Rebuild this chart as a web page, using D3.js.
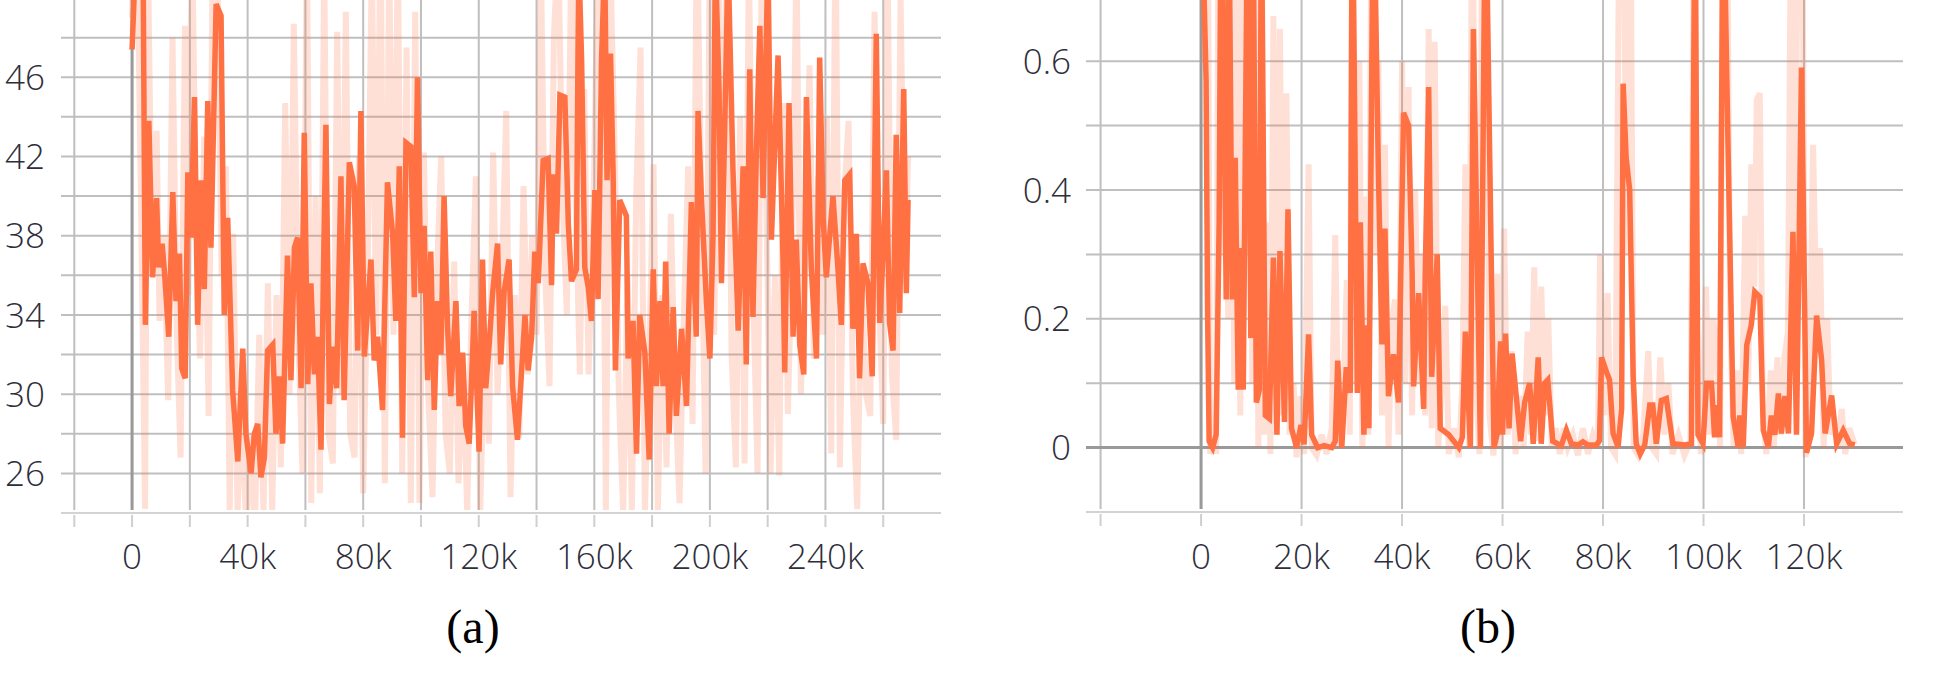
<!DOCTYPE html>
<html>
<head>
<meta charset="utf-8">
<script src="https://cdn.jsdelivr.net/npm/d3@7"></script>
<style>
  body { margin: 0; background: #fff; }
  .tickLabel { font-family: "Open Sans", sans-serif; font-weight: 300; font-size: 35px; fill: #2e2e3a; }
  .caption { font-family: "Liberation Serif", "Times New Roman", serif; font-size: 48px; fill: #000; }
</style>
</head>
<body>
<svg id="chart" width="1952" height="678"></svg>
<script>
// steps are in thousands

// (a) smoothed and raw series
var smoothA = [[0,47.4],[1.5,53],[3.8,52],[4.6,33.5],[5.8,43.8],[7.1,35.9],[8.5,39.9],[9.2,36.4],[10.4,37.6],[11.2,36.2],[12.7,32.9],[14.1,40.2],[15.2,34.7],[16.4,37.1],[17.2,31.3],[18.4,30.8],[19.3,41.2],[20.4,37.9],[21.6,45.0],[22.7,33.5],[23.9,40.8],[25.0,35.3],[26.2,44.8],[27.3,37.4],[29.1,49.7],[30.8,49.1],[31.9,34.0],[33.1,38.9],[34.8,30.2],[36.6,26.6],[38.3,32.3],[39.4,28.0],[41.2,26.0],[42.3,28.0],[43.5,28.5],[44.6,25.8],[45.8,26.8],[46.9,32.2],[48.7,32.5],[49.8,28.0],[51.0,30.9],[52.1,27.5],[53.8,37.0],[55.0,30.7],[56.2,37.4],[57.3,37.9],[58.5,30.3],[59.6,43.2],[60.8,30.5],[61.9,35.6],[63.1,31.0],[64.2,32.9],[65.4,27.2],[66.2,35.8],[67.1,43.6],[68.3,29.5],[69.4,32.4],[70.8,30.3],[72.3,41.0],[73.4,29.7],[75.2,41.7],[76.9,40.5],[78.1,32.2],[79.2,44.3],[80.4,31.9],[82.7,36.8],[83.8,31.7],[85.0,32.9],[86.7,29.2],[88.4,40.7],[90.2,38.1],[91.3,33.7],[92.5,41.5],[93.6,27.8],[94.8,42.7],[96.5,42.5],[97.7,34.9],[98.8,46.0],[100.0,35.1],[101.1,38.5],[102.3,30.7],[103.4,37.2],[104.6,29.2],[105.7,34.7],[106.9,32.0],[108.0,40.0],[109.2,33.4],[110.3,29.9],[112.1,34.7],[113.2,29.4],[114.4,32.1],[115.5,28.4],[116.7,27.5],[118.4,34.2],[120.1,27.1],[121.3,36.8],[122.4,30.3],[123.6,32.5],[124.8,35.1],[126.5,37.6],[127.6,31.5],[128.8,35.2],[130.5,36.8],[131.7,30.4],[133.4,27.7],[136.0,34.0],[137.1,31.2],[138.3,32.9],[139.4,37.2],[140.6,35.6],[142.3,41.8],[144.0,41.9],[145.2,35.5],[145.8,41.1],[146.9,38.1],[148.1,45.1],[149.8,45.0],[151.0,38.6],[152.1,35.7],[153.8,36.3],[154.6,52],[155.6,46.9],[156.7,36.4],[157.9,35.4],[159.0,33.7],[160.2,40.3],[161.3,34.8],[162.5,46.9],[163.6,52],[164.4,40.8],[165.6,47.2],[166.5,41.2],[167.3,31.2],[168.8,39.8],[171.1,39.0],[171.7,31.8],[173.4,33.7],[174.6,27.0],[175.7,34.0],[177.5,32.1],[179.0,26.7],[180.4,36.3],[181.5,30.4],[182.7,34.7],[183.8,30.4],[184.7,36.7],[185.9,28.0],[187.3,34.4],[188.4,28.9],[190.2,33.3],[191.9,29.4],[193.6,39.7],[195.3,32.9],[195.9,44.3],[197.1,39.8],[198.8,34.7],[200.0,31.8],[201.1,38.1],[201.9,52],[203.2,45.2],[204.0,35.6],[205.1,43.2],[206.3,52],[208.0,41.3],[209.8,33.2],[211.5,41.5],[212.6,31.5],[213.8,46.4],[214.9,33.9],[216.1,42.3],[217.3,48.6],[218.4,39.9],[220.1,52],[221.3,37.8],[223.6,47.1],[225.3,36.9],[225.9,31.1],[227.4,44.7],[228.8,32.9],[229.9,37.8],[231.1,32.5],[232.5,31.0],[233.4,45.0],[235.1,36.4],[236.9,31.8],[238.0,47.0],[239.2,38.9],[240.3,35.9],[242.6,40.0],[244.3,36.4],[245.5,33.5],[246.7,40.8],[248.4,41.1],[249.5,33.3],[250.7,38.1],[251.8,30.8],[253.0,36.6],[254.7,35.6],[256.2,30.9],[257.6,48.2],[258.8,33.6],[259.9,37.0],[261.1,41.3],[262.2,33.6],[263.4,32.2],[264.5,43.1],[265.7,34.1],[267.1,45.4],[268.0,35.1],[268.6,39.8]];

var rawA = [[0,49],[1.5,56],[3,40.5],[4.5,24.2],[5.5,52],[7,36],[8.5,43.3],[9.5,33.7],[11,38],[12.5,29.7],[14,48],[15.5,33],[16.8,26.8],[18.3,48.6],[19.5,35],[20.8,53],[22,40],[23.5,31.8],[25,43],[26.5,28.9],[28,54],[29.5,52],[31,36],[32.5,41.5],[33.8,24],[35,38.1],[36.5,24],[38,30],[39.5,23],[41,28],[42.5,23],[44,33],[45.5,24],[47,35.6],[48.5,24],[50,35],[51.5,26.3],[53,44.7],[54.5,30],[56,48.7],[57.5,33],[59,26],[60.5,53],[62,24.5],[63.5,40],[65,25],[66.5,52],[68,28],[69.5,26.5],[71,48.3],[72.5,30],[74,49.3],[75.5,28],[77,26.8],[78.5,42],[80,25],[81.5,36],[83,52],[84.5,33],[86,54],[87.5,25.5],[89,52],[90.5,33],[92,53],[93.5,26],[95,47.5],[96.5,24.5],[98,49.3],[99.5,24.5],[101,42.2],[102.5,30],[104,24.8],[105.5,36],[107,42],[108.5,28],[110,26],[111.5,36.7],[113,25.5],[114.5,32],[116,24],[117.5,34],[119,41],[120.5,24],[122,33],[123.5,27.5],[125,42.2],[126.5,30],[128,36],[129.5,44.3],[131,24.8],[132.5,35],[134,27.8],[135.5,40.5],[137,31],[138.5,38],[140,33],[141.5,52],[143,36],[144.5,30.4],[146,48],[147.5,53],[149,40],[150.5,34],[152,52],[153.5,40],[155,31],[156.5,45.4],[158,31],[159.5,38],[161,50],[162.5,54],[164,24],[165.5,52],[167,42.7],[168.5,30],[170,24],[171.5,36],[173,24],[174.5,40],[176,47.5],[177.5,24],[179,32],[180.5,41.6],[182,24],[183.5,35],[185,26.3],[186.5,39.1],[188,30],[189.5,24.5],[191,34],[192.5,41.5],[194,28.5],[195.5,54],[197,40],[198.5,26],[200,53],[201.5,33],[203,52],[204.5,38],[206,54],[207.5,32],[209,26.3],[210.5,44],[212,26.5],[213.5,52],[215,35],[216.5,26],[218,53],[219.5,40],[221,26],[222.5,36],[224,25.9],[225.5,44.7],[227,29],[228.5,38],[230,52],[231.5,30],[233,37],[234.5,46.6],[236,31.8],[237.5,41],[239,33],[240.5,44],[242,27],[243.5,54],[245,26.3],[246.5,40],[248,43.8],[249.5,30],[251,24.2],[252.5,36],[254,30],[255.5,28.9],[257,49.3],[258.5,35],[260,28.5],[261.5,52],[263,31],[264.5,27.7],[266,50],[267.5,35.6],[268.6,42]];

// (b) smoothed and raw series
var smoothB = [[0,0.9],[1.0,0.57],[1.3,0.21],[1.6,0.01],[2.3,0.0],[3.0,0.02],[3.6,0.35],[4.0,0.9],[4.6,0.55],[5.0,0.23],[5.6,0.8],[6.2,0.23],[6.8,0.45],[7.4,0.09],[8.0,0.31],[8.4,0.09],[8.8,0.46],[9.3,0.9],[9.9,0.17],[10.4,0.8],[11.0,0.07],[11.6,0.09],[12.0,0.85],[12.8,0.05],[13.6,0.045],[14.4,0.295],[15.1,0.02],[15.7,0.305],[16.6,0.04],[17.3,0.37],[18.0,0.03],[19.0,0.0],[19.9,0.035],[20.5,0.005],[21.4,0.176],[22.0,0.02],[23.2,0.0],[24.5,0.003],[26.0,0.0],[26.7,0.01],[27.2,0.135],[28.0,0.0],[28.9,0.125],[29.7,0.085],[30.1,0.9],[31.1,0.085],[31.7,0.35],[32.4,0.02],[33.0,0.19],[33.4,0.03],[34.3,0.9],[35.3,0.425],[36.0,0.16],[36.6,0.34],[37.3,0.08],[38.3,0.145],[39.3,0.07],[40.3,0.52],[41.3,0.5],[42.0,0.275],[42.3,0.095],[43.3,0.24],[44.3,0.06],[44.6,0.26],[45.3,0.56],[45.9,0.11],[47.0,0.3],[47.6,0.03],[49.3,0.02],[51.3,0.0],[52.0,0.016],[52.6,0.18],[53.6,0.0],[54.2,0.65],[55.6,0.0],[56.6,0.9],[58.3,0.0],[58.9,0.02],[59.6,0.165],[60.0,0.02],[60.6,0.177],[61.3,0.03],[61.9,0.146],[63.6,0.01],[64.4,0.07],[65.4,0.1],[66.1,0.006],[67.1,0.14],[67.7,0.006],[68.4,0.1],[69.0,0.105],[70.0,0.01],[71.7,0.003],[72.7,0.027],[73.7,0.006],[75.0,0.004],[76.0,0.009],[77.0,0.004],[78.7,0.004],[79.3,0.011],[79.7,0.14],[80.7,0.117],[81.3,0.105],[82.0,0.022],[83.0,0.001],[83.7,0.06],[84.0,0.565],[84.6,0.45],[85.3,0.4],[86.0,0.11],[86.6,0.006],[87.4,-0.01],[88.3,0.004],[89.3,0.066],[89.9,0.066],[90.6,0.006],[91.6,0.073],[92.6,0.076],[93.9,0.006],[96.3,0.004],[97.6,0.006],[98.3,0.9],[98.9,0.02],[99.9,0.006],[100.6,0.1],[101.6,0.1],[102.2,0.016],[102.6,0.066],[103.2,0.016],[103.9,0.9],[104.9,0.456],[105.9,0.048],[106.9,0.001],[107.2,0.05],[107.9,0.001],[108.6,0.159],[109.5,0.19],[110.2,0.242],[111.2,0.234],[111.9,0.027],[112.9,0.001],[113.5,0.05],[114.2,0.02],[114.9,0.084],[115.5,0.022],[116.2,0.08],[116.9,0.022],[117.8,0.335],[118.5,0.02],[119.5,0.59],[120.5,-0.008],[121.5,0.022],[122.5,0.205],[123.5,0.136],[124.2,0.022],[125.5,0.081],[126.5,0.006],[127.8,0.027],[129.1,0.006],[130.1,0.004]];

var rawB = [[0,0.95],[0.7,0.6],[1.3,0.95],[1.8,-0.01],[2.4,0.05],[3.0,-0.01],[3.5,0.9],[4.2,0.3],[4.8,0.95],[5.4,0.2],[6.0,0.95],[6.6,0.1],[7.2,0.8],[7.8,0.05],[8.4,0.9],[9.0,0.3],[9.6,0.95],[10.2,0.1],[10.8,0.95],[11.4,0.0],[12.0,0.95],[12.6,0.02],[13.2,0.35],[13.8,-0.01],[14.4,0.67],[15.0,0.02],[15.7,0.65],[16.3,0.05],[17.0,0.55],[17.6,0.02],[18.4,0.1],[19.0,-0.015],[19.8,0.08],[20.5,-0.01],[21.4,0.44],[22.0,0.0],[23.0,-0.012],[24.0,0.02],[25.0,-0.01],[26.0,0.03],[26.7,0.33],[27.4,0.0],[28.2,0.05],[29.0,0.26],[29.6,0.02],[30.1,0.95],[30.8,0.1],[31.5,0.6],[32.1,0.0],[32.7,0.39],[33.3,0.02],[34.0,0.95],[34.7,0.3],[35.3,0.6],[36.0,0.05],[36.6,0.47],[37.3,0.0],[38.0,0.2],[38.6,0.23],[39.3,0.02],[40.0,0.6],[40.6,0.1],[41.3,0.56],[42.0,0.05],[42.6,0.4],[43.3,0.1],[44.0,0.3],[44.6,0.05],[45.3,0.65],[45.9,0.03],[46.5,0.63],[47.2,0.0],[47.8,0.08],[48.6,0.22],[49.3,-0.01],[50.3,0.03],[51.3,-0.015],[52.0,0.1],[52.6,0.44],[53.3,0.0],[54.0,0.95],[54.7,0.1],[55.4,-0.01],[56.0,0.95],[56.7,0.95],[57.4,0.05],[58.2,-0.012],[59.0,0.27],[59.6,0.0],[60.3,0.34],[61.0,0.02],[61.8,0.15],[62.6,-0.01],[63.4,0.08],[64.2,0.0],[65.0,0.18],[65.6,0.02],[66.3,0.28],[67.0,0.01],[67.7,0.25],[68.4,0.05],[69.1,0.2],[69.8,0.0],[70.6,0.03],[71.4,-0.01],[72.2,0.03],[73.0,0.0],[74.0,0.02],[75.0,-0.012],[76.0,0.03],[77.0,-0.01],[78.0,0.02],[79.0,0.0],[79.4,0.3],[80.2,0.05],[80.9,0.24],[81.6,0.0],[82.4,-0.01],[83.3,0.9],[84.0,0.95],[84.7,0.3],[85.4,0.95],[86.1,0.0],[87.0,-0.012],[88.0,0.02],[89.0,0.15],[89.7,0.0],[90.6,-0.01],[91.4,0.14],[92.2,0.02],[93.0,0.1],[93.8,-0.01],[95.0,0.02],[96.2,-0.012],[97.4,0.01],[98.2,0.95],[98.8,0.1],[99.5,-0.01],[100.5,0.25],[101.2,0.02],[101.9,0.2],[102.6,0.16],[103.3,0.0],[103.9,0.95],[104.6,0.95],[105.3,0.2],[106.0,0.0],[106.8,0.12],[107.5,-0.01],[108.3,0.36],[108.9,0.1],[109.5,0.44],[110.1,0.25],[110.6,0.54],[111.2,0.55],[111.8,0.05],[112.5,-0.01],[113.4,0.12],[114.0,0.0],[114.7,0.14],[115.4,0.02],[116.1,0.14],[116.8,0.18],[117.5,0.95],[118.2,0.3],[118.9,0.95],[119.6,0.95],[120.3,-0.015],[121.0,0.03],[121.8,0.47],[122.5,0.2],[123.2,0.31],[123.9,0.0],[124.6,0.2],[125.3,0.02],[126.0,0.04],[126.8,0.0],[127.5,0.06],[128.2,-0.01],[129.0,0.03],[130.1,0.005]];

// axis ticks and gridlines
var xGridA = [-20, 0, 20, 40, 60, 80, 100, 120, 140, 160, 180, 200, 220, 240, 260];
var xLabelsA = [0, 40, 80, 120, 160, 200, 240];
var yGridA = [26, 28, 30, 32, 34, 36, 38, 40, 42, 44, 46, 48];
var yLabelsA = [26, 30, 34, 38, 42, 46];

var xGridB = [-20, 0, 20, 40, 60, 80, 100, 120];
var xLabelsB = [0, 20, 40, 60, 80, 100, 120];
var yGridB = [0, 0.1, 0.2, 0.3, 0.4, 0.5, 0.6];
var yLabelsB = [0, 0.2, 0.4, 0.6];

var ORANGE = "#ff7043";
var svg = d3.select("#chart");

function drawPanel(p) {
	var x = d3.scaleLinear().domain(p.xDomain).range([p.left, p.right]);
	var y = d3.scaleLinear().domain(p.yDomain).range([p.bottom, 0]);
	var g = svg.append("g");

	// horizontal grid
	g.selectAll(".hgrid")
		.data(p.yGrid)
		.enter().append("line")
		.attr("x1", p.left).attr("x2", p.right)
		.attr("y1", function(d) { return y(d); })
		.attr("y2", function(d) { return y(d); })
		.attr("stroke", "#bfbfbf")
		.attr("stroke-width", 2);

	// vertical grid
	g.selectAll(".vgrid")
		.data(p.xGrid)
		.enter().append("line")
		.attr("x1", function(d) { return x(d); })
		.attr("x2", function(d) { return x(d); })
		.attr("y1", 0).attr("y2", p.bottom - 3)
		.attr("stroke", "#bfbfbf")
		.attr("stroke-width", 2);

	// bottom axis line + tick marks
	g.append("line")
		.attr("x1", p.left).attr("x2", p.right)
		.attr("y1", p.bottom).attr("y2", p.bottom)
		.attr("stroke", "#d3d3d3").attr("stroke-width", 2);
	g.selectAll(".tickMark")
		.data(p.xGrid)
		.enter().append("line")
		.attr("x1", function(d) { return x(d); })
		.attr("x2", function(d) { return x(d); })
		.attr("y1", p.bottom + 2).attr("y2", p.bottom + 14)
		.attr("stroke", "#cfcfcf").attr("stroke-width", 2);

	// zero lines
	g.append("line")
		.attr("x1", x(0)).attr("x2", x(0))
		.attr("y1", 0).attr("y2", p.bottom - 3)
		.attr("stroke", "#999").attr("stroke-width", 3);
	if (p.yDomain[0] < 0) {
		g.append("line")
			.attr("x1", p.left).attr("x2", p.right)
			.attr("y1", y(0)).attr("y2", y(0))
			.attr("stroke", "#999").attr("stroke-width", 3);
	}

	// data, clipped to plot area
	svg.append("clipPath").attr("id", p.id + "clip")
		.append("rect")
		.attr("x", p.left).attr("y", 0)
		.attr("width", p.right - p.left).attr("height", p.bottom - 3);

	var line = d3.line()
		.x(function(d) { return x(d[0]); })
		.y(function(d) { return y(d[1]); });

	var data = g.append("g").attr("clip-path", "url(#" + p.id + "clip)");
	data.append("path")
		.datum(p.raw)
		.attr("d", line)
		.attr("fill", "none")
		.attr("stroke", ORANGE)
		.attr("stroke-opacity", 0.22)
		.attr("stroke-width", 6);
	data.append("path")
		.datum(p.smooth)
		.attr("d", line)
		.attr("fill", "none")
		.attr("stroke", ORANGE)
		.attr("stroke-width", 5.5);

	// tick labels
	g.selectAll(".yLabel")
		.data(p.yLabels)
		.enter().append("text")
		.attr("class", "tickLabel")
		.attr("text-anchor", "end")
		.attr("x", p.labelX)
		.attr("y", function(d) { return y(d); })
		.attr("dy", "0.36em")
		.text(function(d) { return d; });

	g.selectAll(".xLabel")
		.data(p.xLabels)
		.enter().append("text")
		.attr("class", "tickLabel")
		.attr("text-anchor", "middle")
		.attr("x", function(d) { return x(d); })
		.attr("y", 569)
		.text(function(d) { return d === 0 ? "0" : d + "k"; });

	// caption
	g.append("text")
		.attr("class", "caption")
		.attr("text-anchor", "middle")
		.attr("x", p.captionX)
		.attr("y", 643)
		.text(p.caption);
}

drawPanel({
	id: "a", left: 61, right: 941, bottom: 513,
	xDomain: [-24.6, 280], yDomain: [24, 49.9],
	xGrid: xGridA, xLabels: xLabelsA, yGrid: yGridA, yLabels: yLabelsA,
	raw: rawA, smooth: smoothA, labelX: 45, captionX: 473, caption: "(a)"
});

drawPanel({
	id: "b", left: 1086, right: 1903, bottom: 512,
	xDomain: [-22.9, 139.7], yDomain: [-0.1, 0.695],
	xGrid: xGridB, xLabels: xLabelsB, yGrid: yGridB, yLabels: yLabelsB,
	raw: rawB, smooth: smoothB, labelX: 1071, captionX: 1488, caption: "(b)"
});
</script>
</body>
</html>
